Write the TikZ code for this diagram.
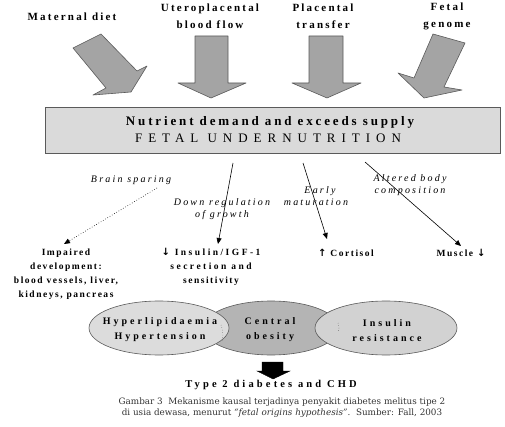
\documentclass[tikz,border=0pt]{standalone}
\usepackage{fontspec}
\setmainfont{Liberation Serif}
\newfontfamily\capfont{DejaVu Serif}
\newfontfamily\arrfont{DejaVu Sans}
\newcommand{\lsp}[1]{\addfontfeature{LetterSpace=#1}}
\newcommand{\dnarr}{{\arrfont\bfseries\fontsize{10}{14}\selectfont ↓}}
\newcommand{\uparr}{{\arrfont\bfseries\fontsize{10}{14}\selectfont ↑}}
\usetikzlibrary{arrows.meta,shapes.geometric}
\definecolor{arrfill}{HTML}{A4A4A4}
\definecolor{arrline}{HTML}{5A5A5A}
\definecolor{boxfill}{HTML}{DADADA}
\definecolor{ellA}{HTML}{DCDCDC}
\definecolor{ellB}{HTML}{B4B4B4}
\definecolor{ellC}{HTML}{D2D2D2}
\definecolor{captxt}{HTML}{333333}
\tikzset{
  blockarrow/.style={fill=arrfill,draw=arrline,line width=0.6pt,line join=round},
  toplbl/.style={font=\bfseries\fontsize{11}{17}\selectfont\lsp{20},align=center,inner sep=0pt},
  itlbl/.style={font=\itshape\fontsize{10}{12.5}\selectfont\lsp{22},align=center,inner sep=0pt},
  botlbl/.style={font=\bfseries\fontsize{9.5}{14}\selectfont\lsp{16},align=center,inner sep=0pt},
  elltxt/.style={font=\bfseries\fontsize{10}{15}\selectfont\lsp{30},align=center,inner sep=0pt},
  conn/.style={line width=0.6pt,-{Triangle[length=6pt,width=5pt]}},
  dotconn/.style={line width=0.6pt,dotted,-{Triangle[length=6pt,width=5pt]}},
  ell/.style={draw=arrline,line width=0.6pt},
}
\begin{document}
\begin{tikzpicture}[x=1pt,y=-1pt]
\useasboundingbox (0,0) rectangle (505,427);
% top labels
\node[toplbl] (lmat) at (72,17) {Maternal diet};
\node[toplbl] (lutero) at (210,16.5) {Uteroplacental\\blood flow};
\node[toplbl] (lplac) at (323,16.5) {Placental\\transfer};
\node[toplbl] (lgen) at (447,16.5) {Fetal\\genome};
% block arrows
\draw[blockarrow] (73,48) -- (101,34) -- (137,71) -- (147,66) -- (131,92) -- (93,95) -- (106,88) -- cycle;
\draw[blockarrow] (195,36) -- (228,36) -- (228,83) -- (246,83) -- (211,98) -- (178,83) -- (195,83) -- cycle;
\draw[blockarrow] (309,36) -- (343,36) -- (343,83) -- (361,83) -- (327,98) -- (292,83) -- (309,83) -- cycle;
\draw[blockarrow] (433,34) -- (465,43) -- (444,87) -- (462,90) -- (424,98) -- (398,73) -- (414,78) -- cycle;
% main box
\node[draw=arrline,fill=boxfill,line width=0.6pt,minimum width=455pt,minimum height=46pt,inner sep=0pt] (box) at (272.5,130) {};
\node[font=\bfseries\fontsize{13}{16}\selectfont\lsp{22},inner sep=0pt] (nut) at (270,122) {Nutrient demand and exceeds supply};
\node[font=\fontsize{13}{16}\selectfont\lsp{46},inner sep=0pt] (fetal) at (268,138.5) {FETAL UNDERNUTRITION};
% italic labels
\node[itlbl] (lbrain) at (131,180) {Brain sparing};
\node[itlbl] (ldown) at (222,209) {Down regulation\\of growth};
\node[itlbl] (learly) at (320,196) {Early\\\hspace*{-8pt}maturation};
\node[itlbl] (lalt) at (410,185) {Altered body\\composition};
% bottom labels
\node[botlbl] (limp) at (66,274) {Impaired\\development:\\blood vessels, liver,\\kidneys, pancreas};
\node[botlbl] (lins) at (211,267) {{\lsp{26}\dnarr\ Insulin/IGF-1}\\{\lsp{26}secretion and}\\sensitivity};
\node[botlbl] (lcort) at (346,253) {\uparr\ Cortisol};
\node[botlbl] (lmus) at (461,253) {Muscle \dnarr};
% connectors
\coordinate (s1) at (157,188);
\coordinate (t1) at (64,244);
\coordinate (s2) at (233,163);
\coordinate (t2) at (218,244);
\coordinate (s3) at (303,163);
\coordinate (t3) at (327,239);
\coordinate (s4) at (365,162);
\coordinate (t4) at (461,246);
\draw[dotconn] (s1) -- (t1);
\draw[conn] (s2) -- (t2);
\draw[conn] (s3) -- (t3);
\draw[conn] (s4) -- (t4);
% ellipses
\node[ell,fill=ellB,ellipse,minimum width=136pt,minimum height=54pt,inner sep=0pt] (emid) at (271,328) {};
\draw[ell,fill=ellA] (159,328) ellipse [x radius=70, y radius=27];
\draw[ell,fill=ellC] (386,328) ellipse [x radius=71, y radius=27];
\draw[arrline,line width=0.5pt,dotted] (221,325) to[bend left=15] (222,342);
\draw[arrline,line width=0.5pt,dotted] (338,323) to[bend left=25] (338,332);
\node[elltxt] (ehyp) at (160,329.5) {Hyperlipidaemia\\Hypertension};
\node[elltxt] (ecen) at (270,329.5) {Central\\obesity};
\node[elltxt] (eins) at (387,330.5) {Insulin\\resistance};
% down arrow
\draw[fill=black] (262,362) -- (283,362) -- (283,371) -- (290,371) -- (273,379) -- (257,371) -- (262,371) -- cycle;
\node[font=\bfseries\fontsize{10.5}{14}\selectfont\lsp{30},inner sep=0pt] (type2) at (271,385) {Type 2 diabetes and CHD};
\node[font=\capfont\fontsize{8.8}{11}\selectfont,text=captxt,align=center,inner sep=0pt] (cap) at (282,407.5) {Gambar 3\ \ Mekanisme kausal terjadinya penyakit diabetes melitus tipe 2\\di usia dewasa, menurut \textit{“fetal origins hypothesis”}.\ \ Sumber: Fall, 2003};
\end{tikzpicture}
\end{document}
